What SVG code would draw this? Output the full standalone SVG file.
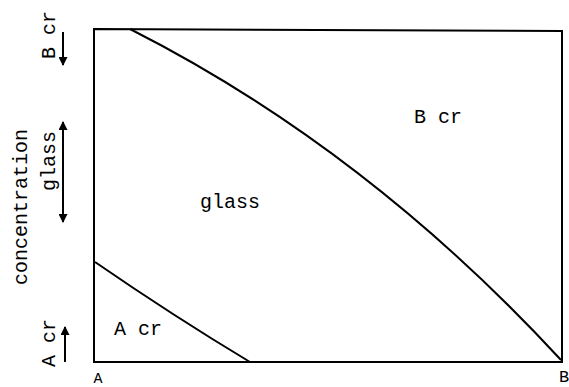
<svg xmlns="http://www.w3.org/2000/svg" width="569" height="387" viewBox="0 0 569 387">
<defs>
<style>
.t{font-family:"Liberation Mono","DejaVu Sans Mono",monospace;font-size:20px;fill:#000}
.ln{fill:none;stroke:#000;stroke-width:2}
.ar{fill:none;stroke:#000;stroke-width:2}
</style>
<marker id="ah" viewBox="0 0 10 10" refX="9" refY="5" markerWidth="5.5" markerHeight="4.5" orient="auto-start-reverse" markerUnits="strokeWidth">
<path d="M0,0 L10,5 L0,10 Z" fill="#000"/>
</marker>
</defs>
<rect width="569" height="387" fill="#fff"/>
<g id="frame">
<path class="ln" d="M94,29 L562,31 L562,362 L94,362 Z"/>
</g>
<g id="connectors">
<path id="glass-Bcr-boundary" class="ln" d="M130,29 C270,100 418,205 561,360"/>
<path id="glass-Acr-boundary" class="ln" d="M95,262 C140,293 200,332 250,362"/>
<line class="ar" x1="63" y1="32" x2="63" y2="65" marker-end="url(#ah)"/>
<line class="ar" x1="63" y1="122" x2="63" y2="222" marker-start="url(#ah)" marker-end="url(#ah)"/>
<line class="ar" x1="65" y1="362" x2="65" y2="327" marker-end="url(#ah)"/>
</g>
<g id="region-Bcr"><text class="t" x="414" y="123">B cr</text></g>
<g id="region-glass"><text class="t" x="200" y="208">glass</text></g>
<g id="region-Acr"><text class="t" x="114" y="335">A cr</text></g>
<g id="axis-labels">
<text class="t" transform="translate(55,35) rotate(-90)" text-anchor="middle">B cr</text>
<text class="t" transform="translate(55,161) rotate(-90)" text-anchor="middle">glass</text>
<text class="t" transform="translate(55,343) rotate(-90)" text-anchor="middle">A cr</text>
<text class="t" transform="translate(27,207) rotate(-90)" text-anchor="middle">concentration</text>
<text class="t" x="98" y="383" text-anchor="middle" style="font-size:15px">A</text>
<text class="t" x="564" y="382" text-anchor="middle" style="font-size:17px">B</text>
</g>
</svg>
